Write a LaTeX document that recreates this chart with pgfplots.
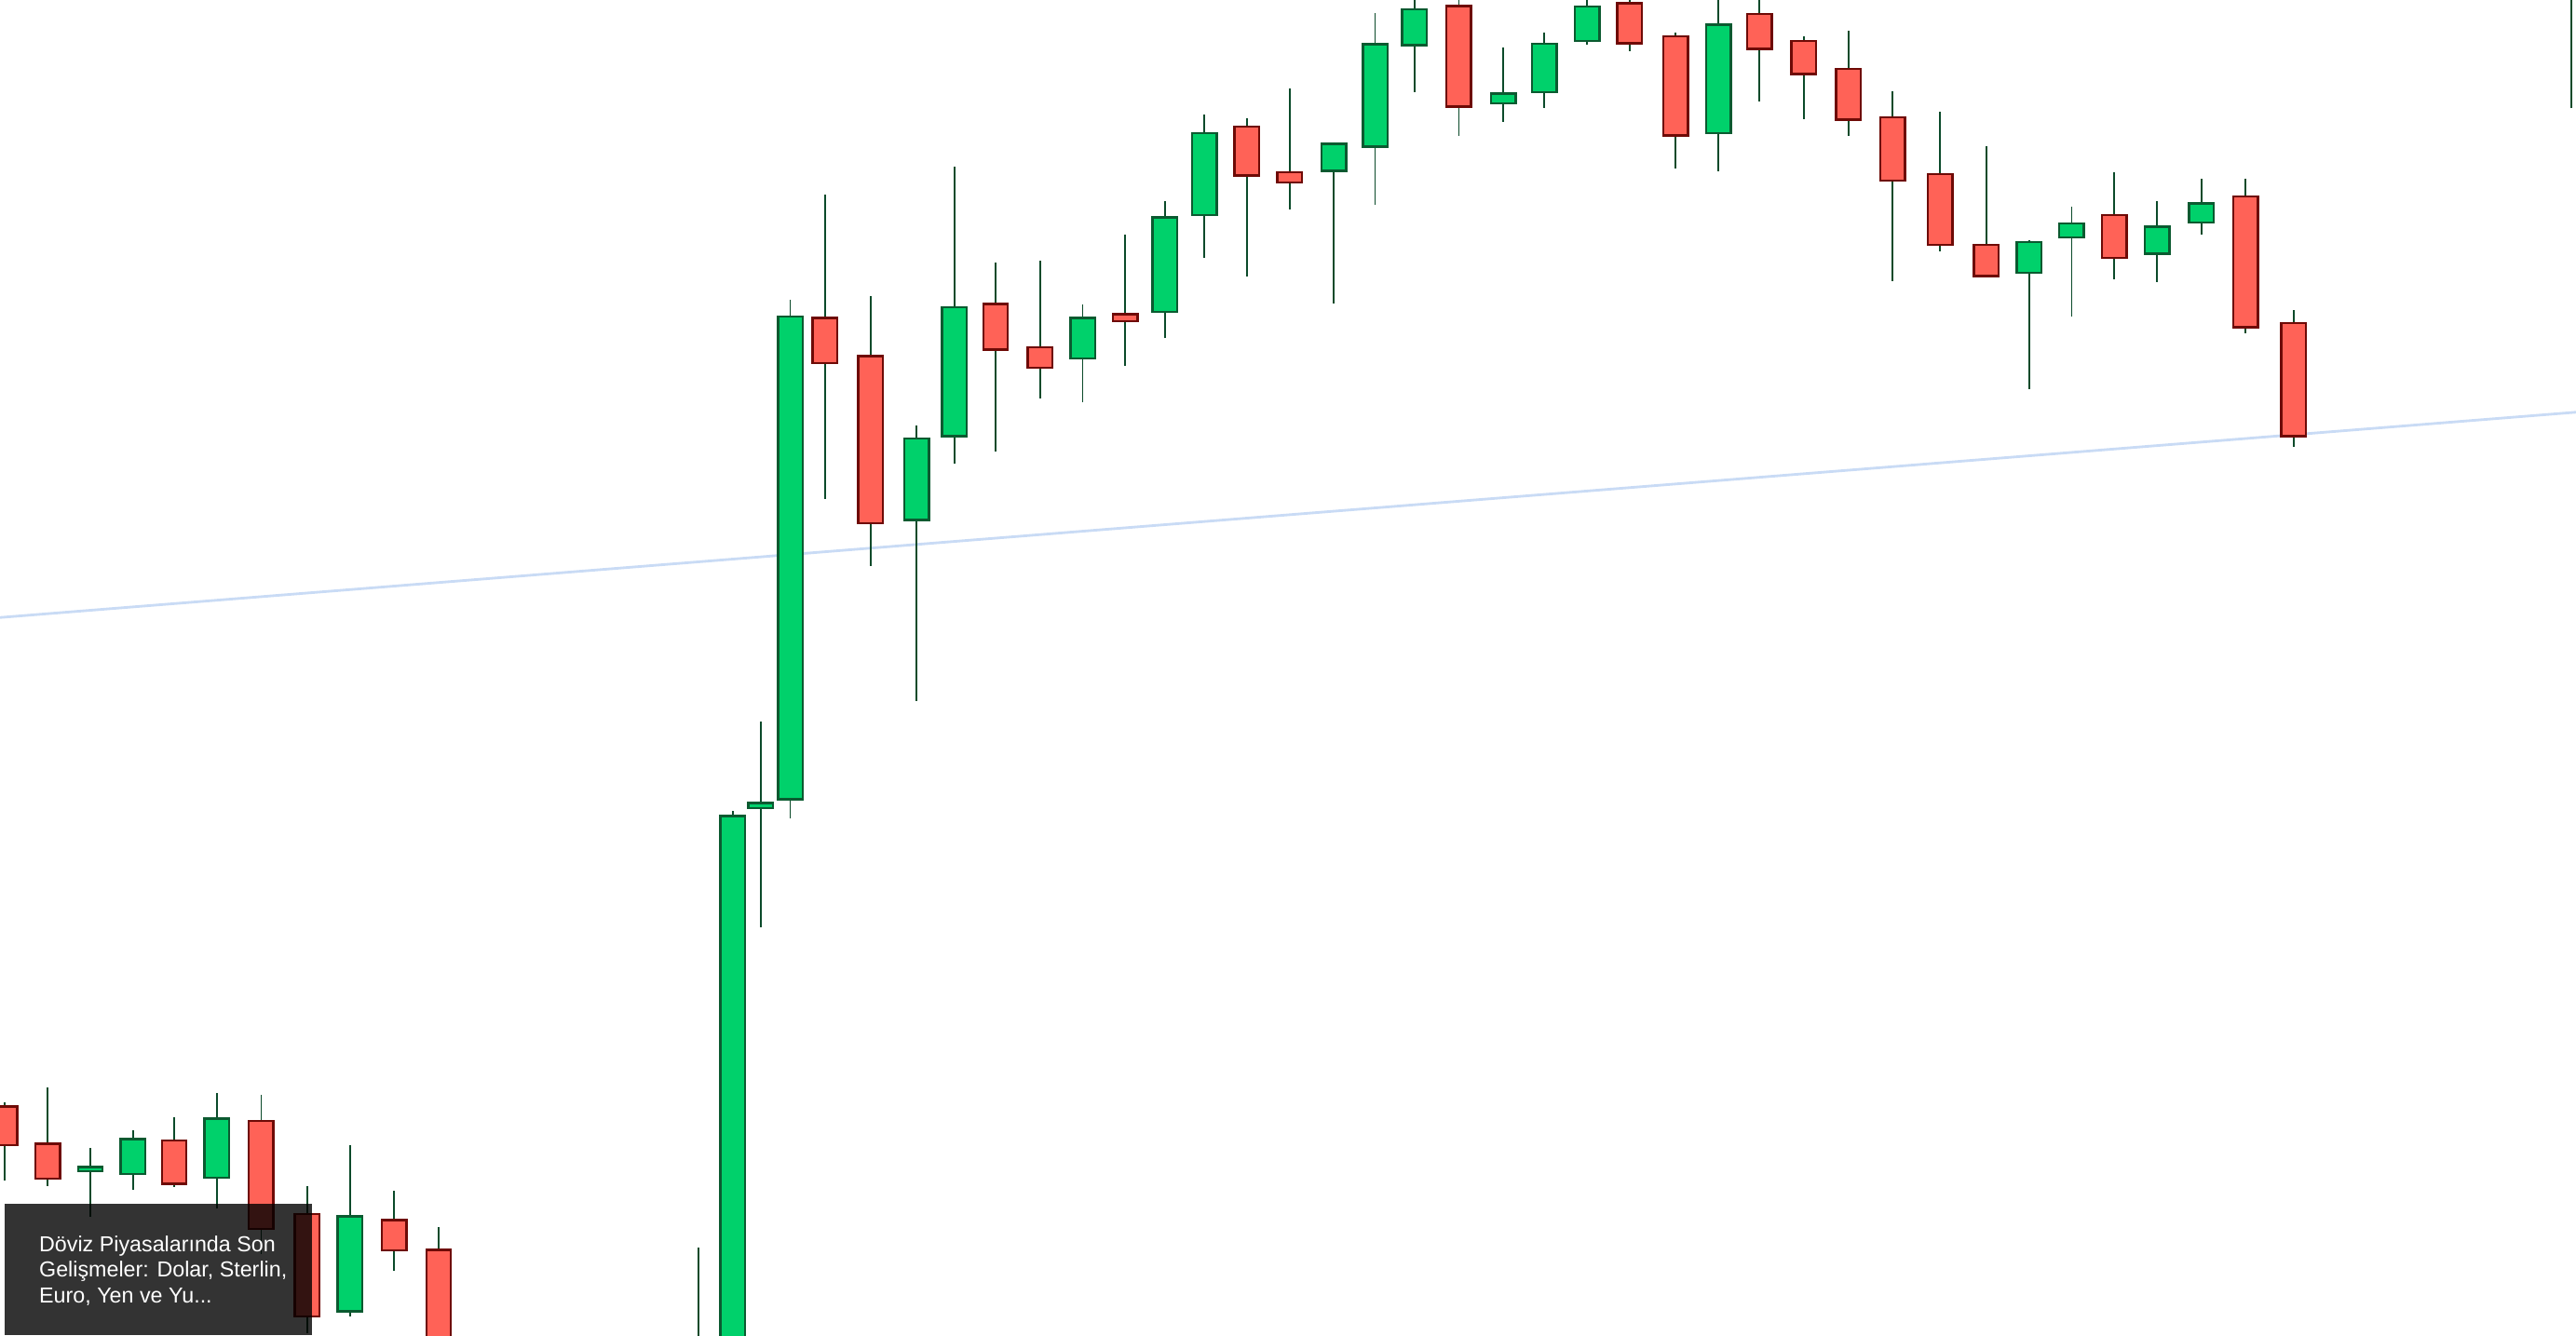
\documentclass[border=0pt]{standalone}
\usepackage{fontspec}
\setmainfont{Liberation Sans}
\usepackage{pgfplots}
\pgfplotsset{compat=1.18}
\usepgfplotslibrary{statistics}
\definecolor{upfill}{HTML}{00D16B}
\definecolor{upline}{HTML}{0B5A30}
\definecolor{dnfill}{HTML}{FF6257}
\definecolor{dnline}{HTML}{6E0A06}
\definecolor{wickc}{HTML}{0B4A2A}
\definecolor{trendc}{HTML}{C9DBF5}
% #1 x, #2 open, #3 high, #4 low, #5 close
\newcommand{\candleup}[5]{\addplot[draw=upline, fill=upfill, line width=0.7pt,
  boxplot prepared={draw direction=y, draw position=#1, lower whisker=#4, lower quartile=#2,
  median=#2, upper quartile=#5, upper whisker=#3}] coordinates {};}
\newcommand{\candledn}[5]{\addplot[draw=dnline, fill=dnfill, line width=0.7pt,
  boxplot prepared={draw direction=y, draw position=#1, lower whisker=#4, lower quartile=#5,
  median=#5, upper quartile=#2, upper whisker=#3}] coordinates {};}
\begin{document}
\begin{tikzpicture}
\begin{axis}[width=784pt, height=406.5pt, scale only axis, hide axis,
  xmin=0, xmax=1568, ymin=0, ymax=813, clip=true,
  boxplot/draw direction=y,
  boxplot/box extend=15, boxplot/whisker extend=0,
  boxplot/every whisker/.style={draw=wickc, line width=0.55pt},
  boxplot/every median/.style={line width=0.7pt}]
\addplot[trendc, line width=0.8pt] coordinates {(0,437) (1568,562)};
% left group
\candledn{3}{139.3}{142}{94}{115.7}
\candledn{29}{116.7}{150.7}{90.6}{95.3}
\candleup{55}{100}{114}{72.3}{102.5}
\candleup{81}{98.2}{124.6}{88.3}{119.5}
\candledn{106}{118.6}{132.7}{90.2}{92.1}
\candleup{132}{96}{147.5}{77}{131.8}
\candledn{159}{130.4}{146.5}{49.5}{64.7}
\candledn{187}{73.8}{91}{1}{11.4}
\candleup{213}{14.6}{116}{11.4}{72.4}
\candledn{240}{70}{87.7}{39}{51.6}
\candledn{267}{52}{65.7}{-40}{-30}
% rally
\candleup{425}{-80}{53.4}{-90}{-20}
\candleup{446}{-50}{319.4}{-60}{316}
\candleup{463}{321}{373.6}{248.3}{324}
\candleup{481}{326.4}{630.4}{314.5}{620.3}
\candledn{502}{619.3}{694.3}{509.2}{592}
\candledn{530}{596.2}{633}{468.5}{494.4}
\candleup{558}{496.3}{554}{386}{546.1}
\candleup{581}{547.4}{711.5}{530.4}{626}
\candledn{606}{628}{653.2}{538.2}{600}
\candledn{633}{601.4}{654}{570.4}{589.2}
\candleup{659}{594.6}{627.5}{568}{619.3}
\candledn{685}{621.7}{670.3}{590.4}{617.4}
\candleup{709}{623}{690.3}{607}{680.5}
\candleup{733}{682}{743}{656}{732}
\candledn{759}{736}{741}{644.5}{706}
\candledn{785}{708}{759}{685.6}{702}
\candleup{812}{709}{726.4}{628}{725.5}
\candleup{837}{723.6}{805}{688}{786}
\candleup{861}{785.6}{820}{757}{807.3}
\candledn{888}{809.2}{820}{730.4}{748.2}
\candleup{915}{750}{784.3}{738.7}{756}
\candleup{940}{757}{793.2}{747}{786.2}
\candleup{966}{788}{820}{786}{809}
\candledn{992}{811}{820}{782}{786.5}
\candledn{1020}{791}{793}{710.5}{730.4}
\candleup{1046}{732}{820}{708.5}{798}
\candledn{1071}{804.5}{820}{751}{783.3}
\candledn{1098}{788}{791}{740.6}{768}
\candledn{1125}{771}{794}{730.4}{740.2}
\candledn{1152}{741.5}{757.2}{642}{703}
\candledn{1181}{707}{745}{660}{664}
\candledn{1209}{664}{724}{645}{645}
\candleup{1235}{647}{666.5}{576}{665.5}
\candleup{1261}{668.4}{687}{620}{677}
\candledn{1287}{682}{708}{643}{656}
\candleup{1313}{658.4}{690.5}{641}{675}
\candleup{1340}{677.5}{704}{670}{689}
\candledn{1367}{693.5}{704.3}{610}{613.6}
\candledn{1396}{616.4}{624}{541}{547.4}
\candleup{1565}{840}{880}{747}{870}
% caption box
\fill[black, opacity=0.8] (axis cs:3,0) rectangle (axis cs:190,80);
\node[anchor=base west, text=white, inner sep=0pt, font=\fontsize{6.6}{7.8}\selectfont] at (axis cs:23.5,51) {Döviz Piyasalarında Son};
\node[anchor=base west, text=white, inner sep=0pt, font=\fontsize{6.6}{7.8}\selectfont] at (axis cs:23.5,35.4) {Gelişmeler: Dolar, Sterlin,};
\node[anchor=base west, text=white, inner sep=0pt, font=\fontsize{6.6}{7.8}\selectfont] at (axis cs:23.5,19.8) {Euro, Yen ve Yu...};
\end{axis}
\pgfresetboundingbox
\useasboundingbox (current axis.south west) rectangle (current axis.north east);
\end{tikzpicture}
\end{document}
